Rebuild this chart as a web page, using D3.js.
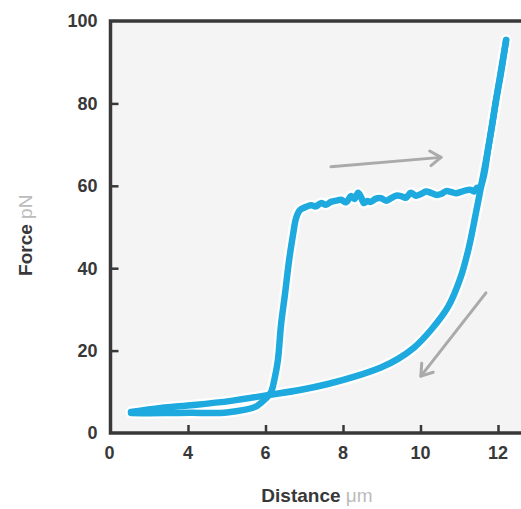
<!DOCTYPE html>
<html>
<head>
<meta charset="utf-8">
<script src="https://cdn.jsdelivr.net/npm/d3@7"></script>
<style>
  body { margin: 0; background: #fff; }
  text { font-family: "Liberation Sans", Arial, sans-serif; }
</style>
</head>
<body>
<div id="chart"></div>
<script>
// extension trace (distance um, force pN)
const pullX = [2.53, 3.0, 3.56, 4.1, 4.59, 5.0, 5.45, 5.75, 5.88, 6.0, 6.14, 6.23, 6.32, 6.40, 6.50, 6.61, 6.71, 6.79, 6.89, 7.05,
  7.17, 7.3, 7.43, 7.56, 7.69, 7.82, 7.95, 8.08, 8.21, 8.3, 8.39, 8.47, 8.54, 8.63, 8.72, 8.85, 8.98, 9.11, 9.24, 9.37, 9.50,
  9.62, 9.75, 9.88, 10.01, 10.14, 10.27, 10.4, 10.53, 10.66, 10.79, 10.92, 11.04, 11.17, 11.30, 11.38, 11.46,
  11.54, 11.64, 11.74, 11.85, 11.95, 12.08, 12.21];
const pullY = [4.85, 4.8, 4.85, 4.9, 4.85, 5.0, 5.6, 6.4, 7.3, 8.3, 9.9, 13.0, 17.7, 26.2, 33.5, 42.0, 48.1, 52.2, 54.1, 54.9,
  55.3, 55.0, 55.8, 55.4, 56.1, 56.4, 56.6, 56.0, 57.5, 56.8, 58.3, 57.2, 55.8, 56.3, 56.1, 56.9, 57.0, 56.4, 57.0, 57.6, 57.5,
  57.1, 58.3, 57.6, 58.0, 58.6, 58.3, 57.8, 58.0, 58.7, 58.5, 58.2, 58.5, 58.9, 59.0, 58.6, 59.5,
  59.7, 62.6, 68.7, 74.8, 80.8, 88.1, 95.4];

// relaxation trace
const relaxX = [12.21, 12.08, 11.95, 11.74, 11.56, 11.43, 11.25, 11.04, 10.71, 10.27, 9.83, 9.42, 8.98, 8.34, 7.61, 6.92, 6.06, 5.11, 4.15, 3.30, 2.53];
const relaxY = [95.4, 87.6, 80.8, 68.7, 59.7, 53.4, 45.1, 37.9, 30.6, 25.0, 20.7, 18.0, 15.9, 13.8, 11.9, 10.5, 9.2, 7.8, 6.8, 6.1, 5.1];

// direction arrows: [x1, y1, x2, y2]
const arrows = [[7.69, 64.6, 10.53, 66.9], [11.69, 34.0, 10.01, 13.8]];

const xTicks = [4, 6, 8, 10, 12];
const yTicks = [0, 20, 40, 60, 80, 100];

const width = 521, height = 509;
const svg = d3.select('#chart').append('svg')
  .attr('width', width)
  .attr('height', height);

const x = d3.scaleLinear().domain([2, 12.8]).range([110.5, 529]);
const y = d3.scaleLinear().domain([0, 100]).range([433, 21]);

const ink = '#383838';

// plot background
svg.append('rect')
  .attr('x', x(2)).attr('y', y(100))
  .attr('width', width - x(2)).attr('height', y(0) - y(100))
  .attr('fill', '#f4f4f4');

// x ticks pointing up
svg.append('g')
  .attr('transform', `translate(0,${y(0)})`)
  .call(d3.axisTop(x).tickValues(xTicks).tickSize(8).tickFormat(''))
  .call(g => g.select('.domain').remove())
  .call(g => g.selectAll('line').attr('stroke', ink).attr('stroke-width', 2.5));

svg.append('g')
  .attr('class', 'x-labels')
  .selectAll('text')
  .data(xTicks)
  .join('text')
  .attr('x', d => x(d))
  .attr('y', y(0) + 26)
  .attr('text-anchor', 'middle')
  .attr('font-size', 18)
  .attr('font-weight', 'bold')
  .attr('fill', ink)
  .text(d => d);

// origin label on x axis
svg.append('text')
  .attr('x', x(2) - 1)
  .attr('y', y(0) + 26)
  .attr('text-anchor', 'middle')
  .attr('font-size', 18)
  .attr('font-weight', 'bold')
  .attr('fill', ink)
  .text('0');

// y ticks
svg.append('g')
  .attr('transform', `translate(${x(2)},0)`)
  .call(d3.axisRight(y).tickValues(yTicks.filter(d => d > 0 && d < 100)).tickSize(8).tickFormat(''))
  .call(g => g.select('.domain').remove())
  .call(g => g.selectAll('line').attr('stroke', ink).attr('stroke-width', 2.5));

svg.append('g')
  .attr('class', 'y-labels')
  .selectAll('text')
  .data(yTicks)
  .join('text')
  .attr('x', x(2) - 13)
  .attr('y', d => y(d))
  .attr('dy', '0.36em')
  .attr('text-anchor', 'end')
  .attr('font-size', 18)
  .attr('font-weight', 'bold')
  .attr('fill', ink)
  .text(d => d);

// frame: left, bottom, top
svg.append('path')
  .attr('d', `M${width},${y(100)}H${x(2)}V${y(0)}H${width}`)
  .attr('fill', 'none')
  .attr('stroke', ink)
  .attr('stroke-width', 3.5);

// arrows
const arrowColor = '#aaaaaa';
arrows.forEach(([x1, y1, x2, y2]) => {
  const px1 = x(x1), py1 = y(y1), px2 = x(x2), py2 = y(y2);
  const ang = Math.atan2(py2 - py1, px2 - px1);
  const len = 13, spread = 0.6;
  svg.append('line')
    .attr('x1', px1).attr('y1', py1).attr('x2', px2).attr('y2', py2)
    .attr('stroke', arrowColor).attr('stroke-width', 3).attr('stroke-linecap', 'round');
  svg.append('path')
    .attr('d', `M${px2 - len * Math.cos(ang - spread)},${py2 - len * Math.sin(ang - spread)}L${px2},${py2}L${px2 - len * Math.cos(ang + spread)},${py2 - len * Math.sin(ang + spread)}`)
    .attr('fill', 'none')
    .attr('stroke', arrowColor).attr('stroke-width', 3)
    .attr('stroke-linecap', 'round').attr('stroke-linejoin', 'round');
});

// traces
const line = d3.line().x(d => x(d[0])).y(d => y(d[1])).curve(d3.curveCatmullRom);
const traces = [d3.zip(relaxX, relaxY), d3.zip(pullX, pullY)];

traces.forEach(t => {
  svg.append('path')
    .datum(t)
    .attr('d', line)
    .attr('fill', 'none')
    .attr('stroke', '#ffffff')
    .attr('stroke-width', 11)
    .attr('stroke-linecap', 'round')
    .attr('stroke-linejoin', 'round');
});
traces.forEach(t => {
  svg.append('path')
    .datum(t)
    .attr('d', line)
    .attr('fill', 'none')
    .attr('stroke', '#1ea9df')
    .attr('stroke-width', 6.5)
    .attr('stroke-linecap', 'round')
    .attr('stroke-linejoin', 'round');
});

// axis titles
const xTitle = svg.append('text')
  .attr('x', 317)
  .attr('y', 502)
  .attr('text-anchor', 'middle')
  .attr('font-size', 19);
xTitle.append('tspan').attr('font-weight', 'bold').attr('fill', ink).text('Distance ');
xTitle.append('tspan').attr('fill', '#bbbbbb').text('μm');

const yTitle = svg.append('text')
  .attr('transform', `translate(32,${y(48)}) rotate(-90)`)
  .attr('text-anchor', 'middle')
  .attr('font-size', 19);
yTitle.append('tspan').attr('font-weight', 'bold').attr('fill', ink).text('Force ');
yTitle.append('tspan').attr('fill', '#bbbbbb').text('pN');
</script>
</body>
</html>
